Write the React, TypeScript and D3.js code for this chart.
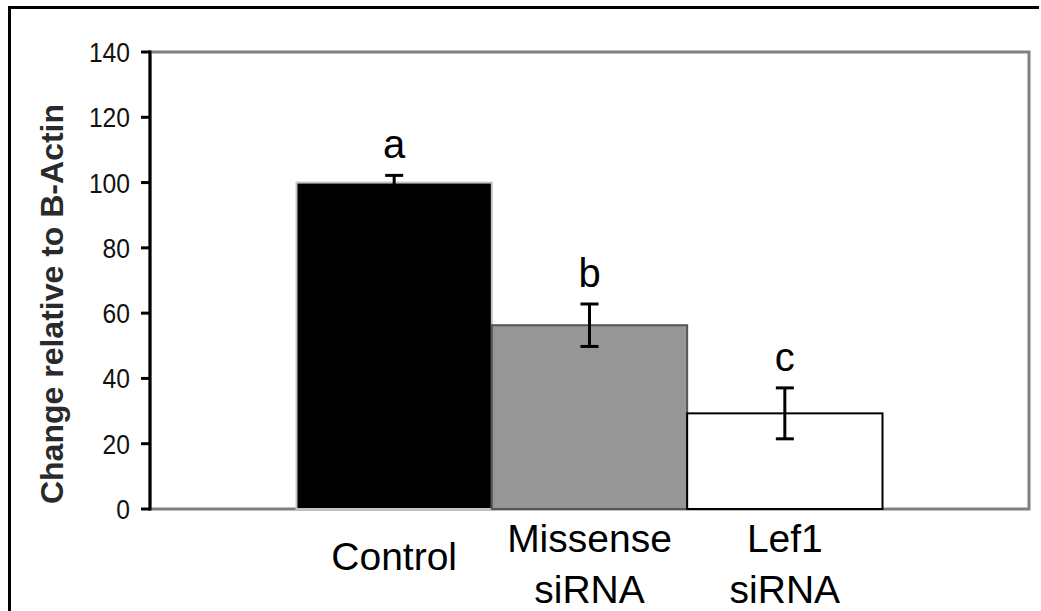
import React from 'react';
import * as d3 from 'd3';

const categories = ['Control', 'Missense siRNA', 'Lef1 siRNA'];
const categoryLines = [['Control'], ['Missense', 'siRNA'], ['Lef1', 'siRNA']];
const means = [100, 56.3, 29.3];
const errors = [2.2, 6.5, 7.8];
const letters = ['a', 'b', 'c'];
const yTicks = [0, 20, 40, 60, 80, 100, 120, 140];

const barFill = ['#000000', '#969696', '#ffffff'];
const barStroke = ['#c4c4c4', '#555555', '#000000'];

const W = 1041;
const H = 611;
const FONT = '"Liberation Sans", Arial, sans-serif';

export default function App() {
  const left = 150;
  const right = 1029;
  const top = 52;
  const bottom = 509;

  const x = d3.scaleBand<string>().domain(categories).range([left, right]).paddingInner(0).paddingOuter(0.75);
  const y = d3.scaleLinear().domain([0, 140]).range([bottom, top]);
  const bw = x.bandwidth();

  return (
    <svg width={W} height={H} style={{ position: 'absolute', left: 0, top: 0, background: '#fff' }}>
      {/* outer frame, only left and top edges visible */}
      <line x1={9.5} x2={9.5} y1={6} y2={H} stroke="#000" strokeWidth={3} />
      <line x1={8} x2={1039} y1={7.5} y2={7.5} stroke="#000" strokeWidth={3} />

      {/* plot frame */}
      <rect x={left} y={top} width={right - left} height={bottom - top} fill="none" stroke="#808080" strokeWidth={3} />

      {/* bars */}
      {categories.map((c, i) => (
        <rect
          key={c}
          x={x(c)!}
          y={y(means[i])}
          width={bw}
          height={y(0) - y(means[i])}
          fill={barFill[i]}
          stroke={barStroke[i]}
          strokeWidth={2}
        />
      ))}

      {/* error bars */}
      {categories.map((c, i) => {
        const cx = x(c)! + bw / 2;
        const y1 = y(means[i] + errors[i]);
        const y2 = y(means[i] - errors[i]);
        return (
          <g key={c} stroke="#000" strokeWidth={3}>
            <line x1={cx} x2={cx} y1={y1} y2={y2} />
            <line x1={cx - 9} x2={cx + 9} y1={y1} y2={y1} />
            <line x1={cx - 9} x2={cx + 9} y1={y2} y2={y2} stroke={i === 0 ? 'none' : '#000'} />
          </g>
        );
      })}

      {/* significance letters */}
      {categories.map((c, i) => (
        <text
          key={c}
          x={x(c)! + bw / 2}
          y={y(means[i] + errors[i]) - 17}
          textAnchor="middle"
          fontFamily={FONT}
          fontSize={40}
          fill="#000"
        >
          {letters[i]}
        </text>
      ))}

      {/* y axis */}
      <line x1={left} x2={left} y1={top - 1.5} y2={bottom + 1.5} stroke="#000" strokeWidth={3} />
      {yTicks.map((t) => (
        <g key={t}>
          <line x1={left - 9} x2={left} y1={y(t)} y2={y(t)} stroke="#000" strokeWidth={3} />
          <text
            x={130}
            y={y(t) + 10}
            textAnchor="end"
            fontFamily={FONT}
            fontSize={28}
            fill="#111"
            transform={`translate(130,0) scale(0.88,1) translate(-130,0)`}
          >
            {t}
          </text>
        </g>
      ))}

      {/* y label */}
      <text
        transform={`translate(63,304) rotate(-90)`}
        textAnchor="middle"
        fontFamily={FONT}
        fontSize={32}
        fontWeight="bold"
        fill="#2a2a2a"
      >
        Change relative to B-Actin
      </text>

      {/* category labels */}
      {categories.map((c, i) => {
        const lines = categoryLines[i];
        const cx = x(c)! + bw / 2;
        return (
          <text key={c} textAnchor="middle" fontFamily={FONT} fontSize={39} fill="#000">
            {lines.length === 1 ? (
              <tspan x={cx} y={570}>{lines[0]}</tspan>
            ) : (
              lines.map((l, j) => (
                <tspan key={l} x={cx} y={552 + j * 51}>{l}</tspan>
              ))
            )}
          </text>
        );
      })}
    </svg>
  );
}
